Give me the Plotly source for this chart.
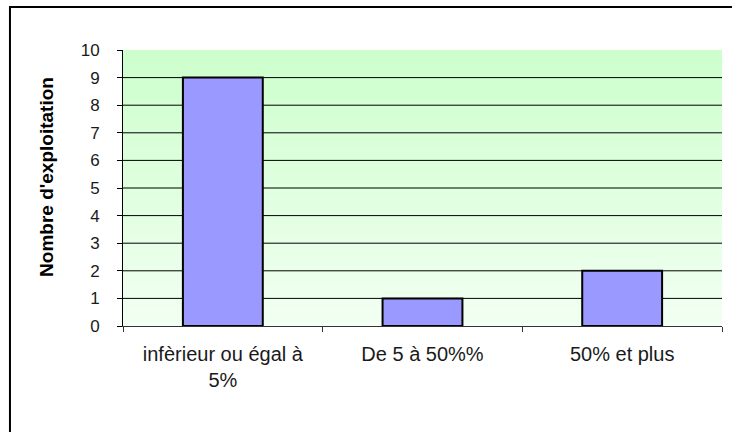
import plotly.graph_objects as go

# ---------------------------------------------------------------------------
# Data
# ---------------------------------------------------------------------------
categories = ["infèrieur ou égal à<br>5%", "De 5 à 50%%", "50% et plus"]
counts = [9, 1, 2]
y_ticks = list(range(0, 11))
y_title = "Nombre d'exploitation"

FONT_FAMILY = "Liberation Sans, Arial, sans-serif"
Y_TICK_FONT = dict(family=FONT_FAMILY, size=17, color="#1a1a1a")
X_TICK_FONT = dict(family=FONT_FAMILY, size=20, color="#1a1a1a")

fig = go.Figure(go.Bar(
    x=categories, y=counts,
    marker=dict(color="#9999FF", line=dict(color="#000000", width=2)),
    width=0.4,
))

# vertical gradient for the plot area (light green -> near white)
n_bands = 60
top = (204, 255, 204)
bot = (242, 255, 242)
shapes = []
for i in range(n_bands):
    t = i / (n_bands - 1)
    c = tuple(round(top[k] + (bot[k] - top[k]) * t) for k in range(3))
    y1 = 1 - i / n_bands
    y0 = 1 - (i + 1) / n_bands
    shapes.append(dict(
        type="rect", xref="paper", yref="paper",
        x0=0, x1=1, y0=max(0, y0 - 0.002), y1=y1,
        fillcolor=f"rgb{c}", line=dict(width=0), layer="below",
    ))

# horizontal gridlines (none at the top of the axis)
for v in y_ticks[1:-1]:
    shapes.append(dict(
        type="line", xref="paper", yref="y",
        x0=0, x1=1, y0=v, y1=v,
        line=dict(color="#000000", width=1), layer="below",
    ))

# outer chart border
shapes.append(dict(
    type="rect", xref="paper", yref="paper",
    x0=-0.1887, x1=1.05, y0=-0.45, y1=1.156,
    line=dict(color="#000000", width=2), fillcolor="rgba(0,0,0,0)",
    layer="above",
))

fig.update_layout(
    width=732, height=432,
    margin=dict(l=123, r=10, t=50, b=106),
    paper_bgcolor="#FFFFFF",
    plot_bgcolor="rgba(0,0,0,0)",
    showlegend=False,
    shapes=shapes,
    font=dict(family=FONT_FAMILY, color="#1a1a1a"),
)

# y-axis title placed as an annotation (it sits a bit above the plot centre)
fig.add_annotation(
    text=f"<b>{y_title}</b>", textangle=-90,
    xref="paper", yref="paper", x=-0.127, y=0.54,
    showarrow=False, xanchor="center", yanchor="middle",
    font=dict(family=FONT_FAMILY, size=19, color="#000000"),
)

fig.update_xaxes(
    showline=True, linecolor="#333333", linewidth=1,
    ticks="outside", ticklen=5, tickcolor="#333333",
    tickson="boundaries", ticklabelstandoff=10,
    showgrid=False, tickfont=X_TICK_FONT,
)
fig.update_yaxes(
    range=[0, 10], tickvals=y_ticks,
    showline=True, linecolor="#000000", linewidth=1,
    ticks="outside", ticklen=5, tickcolor="#000000",
    ticklabelstandoff=14,
    showgrid=False, zeroline=False, tickfont=Y_TICK_FONT,
)

fig.write_html("out.html", config={"displayModeBar": False},
               post_script="document.body.style.margin='0px';")
